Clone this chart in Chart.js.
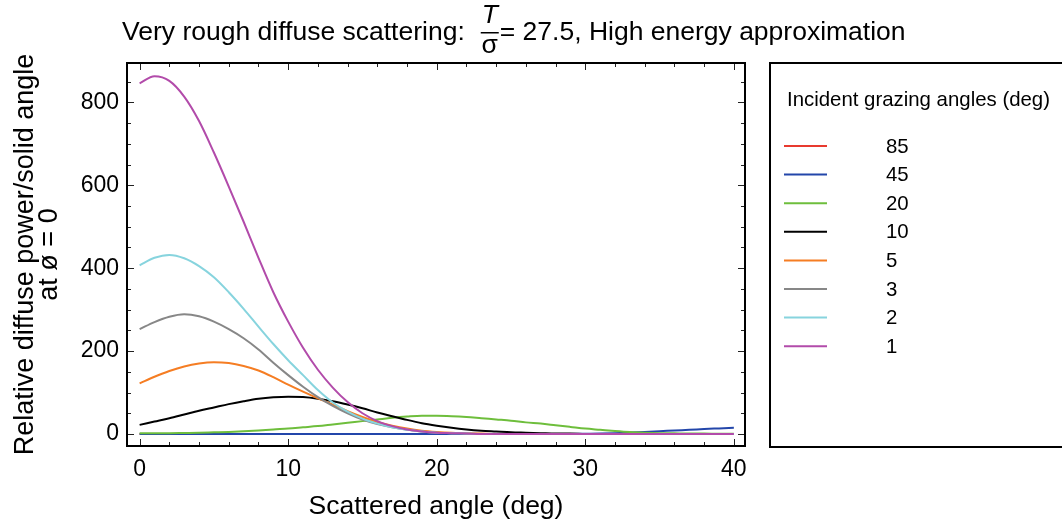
<!DOCTYPE html>
<html>
<head>
<meta charset="utf-8">
<script src="https://cdn.jsdelivr.net/npm/chart.js@4.4.1/dist/chart.umd.min.js"></script>
<style>
  html, body { margin: 0; padding: 0; background: #fff; }
  #wrap { width: 1062px; height: 529px; }
</style>
</head>
<body>
<div id="wrap"><canvas id="scatter"></canvas></div>
<script>
// scattered angle (deg), one sample per degree
const scatterAngles = [0,1,2,3,4,5,6,7,8,9,10,11,12,13,14,15,16,17,18,19,20,
                       21,22,23,24,25,26,27,28,29,30,31,32,33,34,35,36,37,38,39,40];

// incident grazing angles (deg), legend order
const grazingLabels = ['85', '45', '20', '10', '5', '3', '2', '1'];
const lineColors = ['rgb(232,58,47)', 'rgb(35,70,170)', 'rgb(110,190,60)', 'rgb(0,0,0)',
                    'rgb(245,125,35)', 'rgb(135,135,135)', 'rgb(135,212,222)', 'rgb(178,75,170)'];

// relative diffuse power per solid angle
const power85 = [0,0,0,0,0,0,0,0,0,0,0,0,0,0,0,0,0,0,0,0,0,
                 0,0,0,0,0,0,0,0,0,0,0,0,0,0,0,0,0,0,0,0];
const power45 = [0,0,0,0,0,0,0,0,0,0,0,0,0,0,0,0,0,0,0,0,0,
                 0,0,0,0,0,0,0,0,0,0.5,1,2,3.5,5,6.5,8.5,10,12,13.5,15];
const power20 = [2,2,2,2.5,3,4,5,6.5,8.5,11,13,16,19,23,27,31,35,39,42,44,44,
                 43,41,38,35,32,28,25,21,17,13,10,7,4.5,3,2,1.5,1,1,0.5,0.5];
const power10 = [22,30,38,47,56,64,72,79,85,88.5,90,89,85,79,71,62,52,43,34,26,20,
                 15,11,8,6,4,3,2,1,1,0,0,0,0,0,0,0,0,0,0,0];
const power5 = [122,138,152,163,170,173,171,164,153,137,119,102,86,71,55,41,29,20,13,8,5,
                3,2,1,0,0,0,0,0,0,0,0,0,0,0,0,0,0,0,0,0];
const power3 = [253,270,283,289,284,271,253,231,204,172,142,114,89,68,50,35,24,16,10,6,3,
                2,1,0,0,0,0,0,0,0,0,0,0,0,0,0,0,0,0,0,0];
const power2 = [407,425,432,424,405,378,342,302,259,217,178,142,106,76,54,37,25,16,10,6,3,
                2,1,0,0,0,0,0,0,0,0,0,0,0,0,0,0,0,0,0,0];
const power1 = [846,863,852,814,755,679,597,512,425,342,271,208,155,112,77,50,31,19,11,6,3,
                2,1,0,0,0,0,0,0,0,0,0,0,0,0,0,0,0,0,0,0];

const xTickValues = [0, 10, 20, 30, 40];
const yTickValues = [0, 200, 400, 600, 800];

const allPower = [power85, power45, power20, power10, power5, power3, power2, power1];

Chart.defaults.font.family = '"Liberation Sans", Arial, Helvetica, sans-serif';
Chart.defaults.color = '#000';

// inward ticks on all four sides plus the black frame
const framePlugin = {
  id: 'frame',
  afterDatasetsDraw(chart) {
    const { ctx, chartArea: a, scales: { x, y } } = chart;
    ctx.save();
    ctx.strokeStyle = '#222';
    ctx.lineWidth = 1;
    ctx.beginPath();
    for (let v = 0; v <= 40; v += 2) {
      const px = Math.round(x.getPixelForValue(v)) + 0.5;
      const len = v % 10 === 0 ? 7 : 4;
      ctx.moveTo(px, a.bottom); ctx.lineTo(px, a.bottom - len);
      ctx.moveTo(px, a.top); ctx.lineTo(px, a.top + len);
    }
    for (let v = 0; v <= 850; v += 50) {
      const py = Math.round(y.getPixelForValue(v)) + 0.5;
      const len = v % 200 === 0 ? 7 : 4;
      ctx.moveTo(a.left, py); ctx.lineTo(a.left + len, py);
      ctx.moveTo(a.right, py); ctx.lineTo(a.right - len, py);
    }
    ctx.stroke();
    ctx.strokeStyle = '#000';
    ctx.lineWidth = 2;
    ctx.strokeRect(a.left, a.top, a.right - a.left, a.bottom - a.top);
    ctx.restore();
  }
};

// title with the T / sigma fraction
const headingPlugin = {
  id: 'heading',
  afterDraw(chart) {
    const ctx = chart.ctx;
    const base = 40;
    const font = '26.5px "Liberation Sans", Arial, sans-serif';
    ctx.save();
    ctx.fillStyle = '#000';
    ctx.textBaseline = 'alphabetic';
    ctx.font = font;
    const left = 'Very rough diffuse scattering:';
    ctx.textAlign = 'left';
    ctx.fillText(left, 122, base);
    let cx = 122 + ctx.measureText(left).width + 16;
    const fracW = 18;
    ctx.textAlign = 'center';
    ctx.font = 'italic ' + font;
    ctx.fillText('T', cx + fracW / 2, 23);
    ctx.font = font;
    ctx.fillText('σ', cx + fracW / 2, 53);
    ctx.fillRect(cx, 32, fracW, 1.5);
    ctx.textAlign = 'left';
    ctx.fillText('= 27.5, High energy approximation', cx + fracW + 1, base);
    ctx.restore();
  }
};

// legend box at the right
const keyPlugin = {
  id: 'key',
  afterDraw(chart) {
    const ctx = chart.ctx;
    ctx.save();
    ctx.strokeStyle = '#000';
    ctx.lineWidth = 2;
    ctx.strokeRect(770, 63, 320, 384);
    ctx.fillStyle = '#000';
    ctx.textBaseline = 'middle';
    ctx.textAlign = 'left';
    ctx.font = '20.4px "Liberation Sans", Arial, sans-serif';
    ctx.fillText('Incident grazing angles (deg)', 787, 100);
    chart.data.datasets.forEach((ds, i) => {
      const yy = 146 + i * 28.6;
      ctx.strokeStyle = ds.borderColor;
      ctx.lineWidth = 2;
      ctx.beginPath();
      ctx.moveTo(784, yy); ctx.lineTo(827, yy);
      ctx.stroke();
      ctx.fillText(ds.label, 886, yy + 1);
    });
    ctx.restore();
  }
};

const datasets = grazingLabels.map((lab, i) => ({
  label: lab,
  data: allPower[i].map((v, j) => ({ x: scatterAngles[j], y: v })),
  borderColor: lineColors[i],
  backgroundColor: lineColors[i],
  borderWidth: 2,
  pointRadius: 0,
  fill: false,
  cubicInterpolationMode: 'monotone',
  order: grazingLabels.length - i
}));

new Chart(document.getElementById('scatter'), {
  type: 'line',
  data: { datasets: datasets },
  options: {
    responsive: true,
    maintainAspectRatio: false,
    animation: false,
    devicePixelRatio: 1,
    layout: { padding: { top: 63, right: 317, left: 0, bottom: 0 } },
    plugins: { legend: { display: false }, tooltip: { enabled: false } },
    scales: {
      x: {
        type: 'linear',
        min: -0.85,
        max: 40.75,
        afterBuildTicks: (s) => { s.ticks = xTickValues.map((v) => ({ value: v })); },
        afterFit: (s) => { s.height = 83; },
        grid: { display: false, drawTicks: false },
        border: { display: false },
        ticks: { font: { size: 23 }, padding: 10, maxRotation: 0 },
        title: {
          display: true,
          text: 'Scattered angle (deg)',
          font: { size: 26.5, lineHeight: 1 },
          padding: { top: 0, bottom: 9 }
        }
      },
      y: {
        type: 'linear',
        min: -29,
        max: 895,
        afterBuildTicks: (s) => { s.ticks = yTickValues.map((v) => ({ value: v })); },
        afterFit: (s) => { s.width = 127; },
        grid: { display: false, drawTicks: false },
        border: { display: false },
        ticks: { font: { size: 23 }, padding: 8 },
        title: {
          display: true,
          text: ['Relative diffuse power/solid angle', 'at ø = 0'],
          font: { size: 27, lineHeight: 0.9 },
          padding: { top: 13, bottom: 0 }
        }
      }
    }
  },
  plugins: [framePlugin, headingPlugin, keyPlugin]
});
</script>
</body>
</html>
